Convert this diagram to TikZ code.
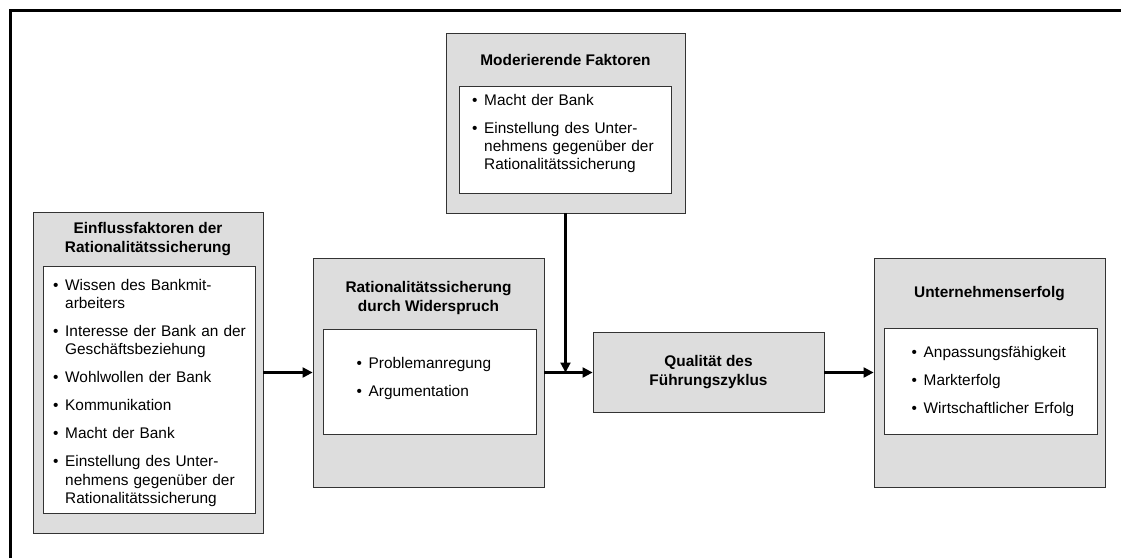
\documentclass[tikz,border=0pt]{standalone}
\usepackage{fontspec}
\setmainfont{Liberation Sans}
\usetikzlibrary{arrows.meta}
\newcommand{\punkt}[1]{\hangindent=12pt\hangafter=1\noindent\makebox[12pt][l]{\textbullet}#1\par}

\begin{document}
\begin{tikzpicture}[x=1pt, y=-1pt,
        font=\fontsize{15.4}{18.3}\selectfont,
        kasten/.style={draw=black!80, line width=0.8pt, fill=gray!27},
        liste/.style={draw=black!80, line width=0.8pt, fill=white},
        titel/.style={font=\fontsize{15.4}{19}\selectfont\bfseries, align=center, inner sep=0pt},
        punkte/.style={anchor=north west, inner sep=0pt, text width=205pt,
            execute at begin node={\setlength{\parskip}{9.7pt}}},
        pfeil/.style={line width=2.1pt, -{Triangle[length=10pt, width=10pt]}}]
    \useasboundingbox (0,0) rectangle (1121,558);
    \draw [line width=3pt] (10,558) -- (10,10) -- (1121,10);

    % Einflussfaktoren
    \node [kasten, minimum width=230pt, minimum height=321pt] (einfluss) at (148,372.5) {};
    \node [titel] (einfluss-titel) at (148,239.5) {Einflussfaktoren der\\Rationalitätssicherung};
    \node [liste, minimum width=212pt, minimum height=247pt] (einfluss-liste) at (149,389.5) {};
    \node [punkte] (einfluss-punkte) at (53,279) {%
        \punkt{Wissen des Bankmit-\newline arbeiters}
        \punkt{Interesse der Bank an der\newline Geschäftsbeziehung}
        \punkt{Wohlwollen der Bank}
        \punkt{Kommunikation}
        \punkt{Macht der Bank}
        \punkt{Einstellung des Unter-\newline nehmens gegenüber der\newline Rationalitätssicherung}};

    % Widerspruch
    \node [kasten, minimum width=231pt, minimum height=229pt] (widerspruch) at (428.5,372.5) {};
    \node [titel] (widerspruch-titel) at (428.5,298) {Rationalitätssicherung\\durch Widerspruch};
    \node [liste, minimum width=213pt, minimum height=105pt] (widerspruch-liste) at (429.5,381.5) {};
    \node [punkte] (widerspruch-punkte) at (356.5,357) {%
        \punkt{Problemanregung}
        \punkt{Argumentation}};

    % moderierende Faktoren
    \node [kasten, minimum width=239pt, minimum height=180pt] (moderierend) at (565.5,123) {};
    \node [titel] (moderierend-titel) at (565.5,60) {Moderierende Faktoren};
    \node [liste, minimum width=212pt, minimum height=107pt] (moderierend-liste) at (565,139.5) {};
    \node [punkte] (moderierend-punkte) at (472,94) {%
        \punkt{Macht der Bank}
        \punkt{Einstellung des Unter-\newline nehmens gegenüber der\newline Rationalitätssicherung}};

    % Fuehrungszyklus
    \node [kasten, titel, minimum width=231pt, minimum height=80pt] (qualitaet) at (708.5,372.5)
        {Qualität des\\Führungszyklus};

    % Unternehmenserfolg
    \node [kasten, minimum width=231pt, minimum height=229pt] (erfolg) at (989.5,372.5) {};
    \node [titel] (erfolg-titel) at (989.5,293.5) {Unternehmenserfolg};
    \node [liste, minimum width=213pt, minimum height=106pt] (erfolg-liste) at (990.5,381) {};
    \node [punkte] (erfolg-punkte) at (911.5,346) {%
        \punkt{Anpassungsfähigkeit}
        \punkt{Markterfolg}
        \punkt{Wirtschaftlicher Erfolg}};

    \coordinate (treffpunkt) at (moderierend.south |- widerspruch.east);
    \draw [pfeil] (einfluss) -- (widerspruch);
    \draw [pfeil] (widerspruch) -- (qualitaet);
    \draw [pfeil] (moderierend) -- (treffpunkt);
    \draw [pfeil] (qualitaet) -- (erfolg);
\end{tikzpicture}
\end{document}
